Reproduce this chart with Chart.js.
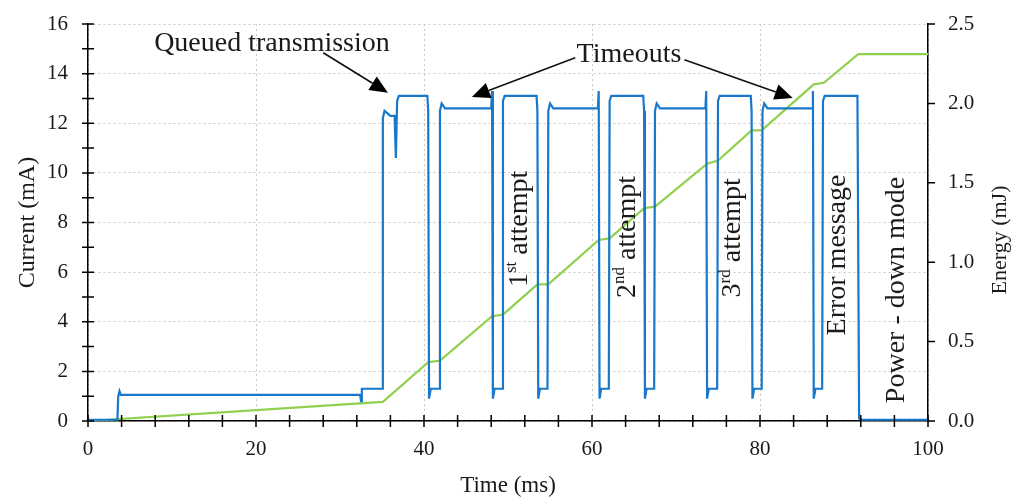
<!DOCTYPE html>
<html>
<head>
<meta charset="utf-8">
<script src="https://cdn.jsdelivr.net/npm/chart.js@4.4.1/dist/chart.umd.min.js"></script>
<style>
    body { margin: 0; background: #fff; }
    #wrap { width: 1022px; height: 497px; }
</style>
</head>
<body>
<div id="wrap"><canvas id="graphCanvas" width="1022" height="497"></canvas></div>
<script>
// current trace (ms, mA)
var currentTime = [0, 3.5, 3.6, 3.75, 3.9, 32.4, 32.5, 32.6, 35.0,
    35.1, 35.3, 36.0, 36.5, 36.65, 36.8, 37.0, 40.4, 40.5, 40.6, 40.8, 41.8,
    41.9, 42.1, 42.5, 48.0, 48.1, 48.2, 48.4, 49.3,
    49.4, 49.6, 53.4, 53.5, 53.6, 53.8, 54.7,
    54.8, 55.0, 55.4, 60.7, 60.8, 60.9, 61.1, 62.0,
    62.1, 62.3, 66.1, 66.2, 66.3, 66.5, 67.4,
    67.5, 67.7, 68.1, 73.5, 73.6, 73.7, 73.9, 74.9,
    75.0, 75.2, 78.9, 79.0, 79.1, 79.3, 80.2,
    80.3, 80.5, 80.9, 86.2, 86.3, 86.4, 86.6, 87.4,
    87.5, 87.7, 91.6, 91.8, 92.0, 100];
var currentMa = [0.05, 0.05, 1.0, 1.2, 1.05, 1.05, 0.8, 1.3, 1.3,
    12.2, 12.5, 12.3, 12.3, 10.6, 12.9, 13.1, 13.1, 12.5, 0.9, 1.3, 1.3,
    12.5, 12.8, 12.6, 12.6, 13.3, 0.9, 1.3, 1.3,
    12.9, 13.1, 13.1, 12.5, 0.9, 1.3, 1.3,
    12.5, 12.8, 12.6, 12.6, 13.3, 0.9, 1.3, 1.3,
    12.9, 13.1, 13.1, 12.5, 0.9, 1.3, 1.3,
    12.5, 12.8, 12.6, 12.6, 13.3, 0.9, 1.3, 1.3,
    12.9, 13.1, 13.1, 12.5, 0.9, 1.3, 1.3,
    12.5, 12.8, 12.6, 12.6, 13.3, 0.9, 1.3, 1.3,
    12.9, 13.1, 13.1, 0.1, 0.05, 0.05];

// accumulated energy (ms, mJ)
var energyTime = [0, 35.1, 40.5, 41.9, 48.1, 49.4, 53.5, 54.8, 60.8, 62.1,
    66.2, 67.5, 73.7, 75.0, 79.0, 80.2, 86.4, 87.6, 91.7, 100];
var energyMj = [0, 0.12, 0.37, 0.38, 0.66, 0.67, 0.86, 0.86, 1.14, 1.15,
    1.34, 1.35, 1.62, 1.64, 1.83, 1.83, 2.12, 2.13, 2.31, 2.31];

var serif = '"Liberation Serif", "DejaVu Serif", serif';

// labels placed in data units (ms, mA)
var notes = [
    { text: 'Queued transmission', x: 21.9, y: 15.2 },
    { text: 'Timeouts', x: 64.4, y: 14.76 }
];
var arrows = [
    { from: [28.0, 14.84], to: [35.7, 13.23] },
    { from: [58.0, 14.64], to: [45.7, 13.06] },
    { from: [71.0, 14.56], to: [83.9, 13.02] }
];
var upright = [
    { parts: [['1'], ['st', 1], [' attempt']], x: 51.4, y: 7.74 },
    { parts: [['2'], ['nd', 1], [' attempt']], x: 64.2, y: 7.42 },
    { parts: [['3'], ['rd', 1], [' attempt']], x: 76.8, y: 7.38 },
    { parts: [['Error message']], x: 89.2, y: 6.69 },
    { parts: [['Power - down mode']], x: 96.3, y: 5.28 }
];

function pairs(xs, ys) {
    var out = [];
    for (var i in xs) {
        out.push({ x: xs[i], y: ys[i] });
    }
    return out;
}

var extras = {
    id: 'extras',
    afterDraw: function (chart) {
        var ctx = chart.ctx;
        var a = chart.chartArea;
        var sx = chart.scales.x, sy = chart.scales.y, sy2 = chart.scales.y2;

        // axis ticks crossing the axis lines
        ctx.save();
        ctx.strokeStyle = '#000';
        ctx.lineWidth = 1.5;
        ctx.beginPath();
        for (var t = 0; t <= 100; t += 4) {
            var px = sx.getPixelForValue(t);
            ctx.moveTo(px, a.bottom - 6);
            ctx.lineTo(px, a.bottom + 6);
        }
        for (var v = 0; v <= 16; v += 1) {
            var py = sy.getPixelForValue(v);
            ctx.moveTo(a.left - 6, py);
            ctx.lineTo(a.left + 6, py);
        }
        for (var e = 0; e <= 5; e += 1) {
            var py2 = sy2.getPixelForValue(e * 0.5);
            ctx.moveTo(a.right, py2);
            ctx.lineTo(a.right + 7, py2);
        }
        ctx.stroke();

        // right axis title, reading upwards
        ctx.fillStyle = '#1a1a1a';
        ctx.font = '22px ' + serif;
        ctx.textAlign = 'center';
        ctx.textBaseline = 'middle';
        ctx.save();
        ctx.translate(1000, 240);
        ctx.rotate(-Math.PI / 2);
        ctx.fillText('Energy (mJ)', 0, 0);
        ctx.restore();

        // callouts
        ctx.font = '28px ' + serif;
        notes.forEach(function (n) {
            ctx.fillText(n.text, sx.getPixelForValue(n.x), sy.getPixelForValue(n.y));
        });
        arrows.forEach(function (r) {
            var x1 = sx.getPixelForValue(r.from[0]), y1 = sy.getPixelForValue(r.from[1]);
            var x2 = sx.getPixelForValue(r.to[0]), y2 = sy.getPixelForValue(r.to[1]);
            var ang = Math.atan2(y2 - y1, x2 - x1);
            var len = 18, half = 8;
            var bx = x2 - len * Math.cos(ang), by = y2 - len * Math.sin(ang);
            ctx.strokeStyle = '#111';
            ctx.lineWidth = 1.6;
            ctx.beginPath();
            ctx.moveTo(x1, y1);
            ctx.lineTo(bx, by);
            ctx.stroke();
            ctx.fillStyle = '#000';
            ctx.beginPath();
            ctx.moveTo(x2, y2);
            ctx.lineTo(bx + half * Math.sin(ang), by - half * Math.cos(ang));
            ctx.lineTo(bx - half * Math.sin(ang), by + half * Math.cos(ang));
            ctx.closePath();
            ctx.fill();
        });

        // rotated phase labels
        ctx.fillStyle = '#1a1a1a';
        ctx.textAlign = 'left';
        ctx.textBaseline = 'middle';
        upright.forEach(function (u) {
            var w = 0;
            u.parts.forEach(function (p) {
                ctx.font = (p[1] ? '17px ' : '28px ') + serif;
                w += ctx.measureText(p[0]).width;
            });
            ctx.save();
            ctx.translate(sx.getPixelForValue(u.x), sy.getPixelForValue(u.y));
            ctx.rotate(-Math.PI / 2);
            var cx = -w / 2;
            u.parts.forEach(function (p) {
                ctx.font = (p[1] ? '17px ' : '28px ') + serif;
                ctx.fillText(p[0], cx, p[1] ? -8 : 0);
                cx += ctx.measureText(p[0]).width;
            });
            ctx.restore();
        });
        ctx.restore();
    }
};

var graphTarget = document.getElementById('graphCanvas');

var lineChart = new Chart(graphTarget, {
    type: 'line',
    data: {
        datasets: [
            {
                label: 'Current',
                data: pairs(currentTime, currentMa),
                borderColor: '#1a78cc',
                borderWidth: 2.2,
                pointRadius: 0,
                tension: 0,
                yAxisID: 'y'
            },
            {
                label: 'Energy',
                data: pairs(energyTime, energyMj),
                borderColor: '#8fd14f',
                borderWidth: 2.2,
                pointRadius: 0,
                tension: 0,
                yAxisID: 'y2'
            }
        ]
    },
    options: {
        responsive: false,
        animation: false,
        layout: { padding: { top: 24, left: 0, right: 0, bottom: 0 } },
        plugins: {
            legend: { display: false },
            tooltip: { enabled: false }
        },
        scales: {
            x: {
                type: 'linear',
                min: 0,
                max: 100,
                afterFit: function (s) { s.height = 76; },
                ticks: {
                    stepSize: 20,
                    padding: 16,
                    maxRotation: 0,
                    color: '#1a1a1a',
                    font: { family: serif, size: 21 }
                },
                grid: { color: '#c8c8c8', lineWidth: 1, drawTicks: false },
                border: { color: '#000', width: 1.5, dash: [2, 3] },
                title: {
                    display: true,
                    text: 'Time (ms)',
                    color: '#1a1a1a',
                    font: { family: serif, size: 23, lineHeight: 1 },
                    padding: { top: 0, bottom: 0 }
                }
            },
            y: {
                position: 'left',
                min: 0,
                max: 16,
                afterFit: function (s) { s.width = 88; },
                ticks: {
                    stepSize: 2,
                    padding: 0,
                    color: '#1a1a1a',
                    font: { family: serif, size: 21 }
                },
                grid: {
                    color: '#c8c8c8',
                    lineWidth: 1,
                    drawTicks: true,
                    tickLength: 20,
                    tickColor: 'rgba(0,0,0,0)'
                },
                border: { color: '#000', width: 1.5, dash: [2, 3] },
                title: {
                    display: true,
                    text: 'Current (mA)',
                    color: '#1a1a1a',
                    font: { family: serif, size: 24, lineHeight: 1 },
                    padding: { top: 16, bottom: 0 }
                }
            },
            y2: {
                position: 'right',
                min: 0,
                max: 2.5,
                afterFit: function (s) { s.width = 94; },
                ticks: {
                    stepSize: 0.5,
                    padding: 0,
                    color: '#1a1a1a',
                    font: { family: serif, size: 21 },
                    callback: function (v) { return v.toFixed(1); }
                },
                grid: {
                    drawOnChartArea: false,
                    drawTicks: true,
                    tickLength: 20,
                    tickColor: 'rgba(0,0,0,0)'
                },
                border: { color: '#000', width: 1.5 }
            }
        }
    },
    plugins: [extras]
});
</script>
</body>
</html>
